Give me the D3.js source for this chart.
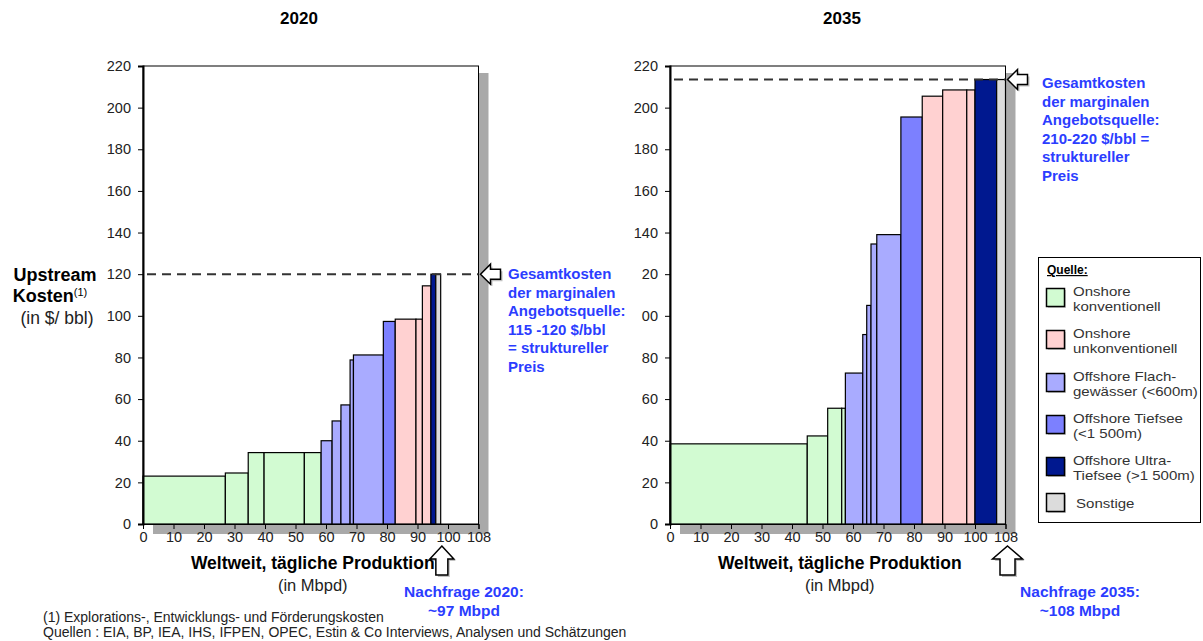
<!DOCTYPE html>
<html><head><meta charset="utf-8">
<script src="https://cdn.jsdelivr.net/npm/d3@7"></script>
<style>body{margin:0;background:#fff;} svg{font-family:"Liberation Sans",Arial,Helvetica,sans-serif;}</style>
</head><body><svg id="c" width="1203" height="641"></svg>
<script>
// ---------- data ----------
const sourceTypes = ["Onshore konventionell","Onshore unkonventionell","Offshore Flachgewässer (<600m)","Offshore Tiefsee (<1 500m)","Offshore Ultra-Tiefsee (>1 500m)","Sonstige"];
const legendLines = [["Onshore","konventionell"],["Onshore","unkonventionell"],["Offshore Flach-","gewässer (<600m)"],["Offshore Tiefsee","(<1 500m)"],["Offshore Ultra-","Tiefsee (>1 500m)"],["Sonstige"]];
const typeColors = ["#d2fbd2","#ffd1d1","#a9abff","#7c80ff","#00188f","#dcdcdc"];

const xTickValues = [0,10,20,30,40,50,60,70,80,90,100,110];
const xTickLabels = ["0","10","20","30","40","50","60","70","80","90","100","108"];
const yTickValues = [0,20,40,60,80,100,120,140,160,180,200,220];
const yTickLabels2020 = ["0","20","40","60","80","100","120","140","160","180","200","220"];
const yTickLabels2035 = ["0","20","40","60","80","00","20","140","160","180","200","220"];

// production width (Mbpd), upstream cost ($/bbl), source type index
const widths2020 = [27, 7.5, 5.2, 13.2, 5.5, 3.6, 2.9, 3.0, 1.1, 9.8, 3.9, 6.8, 2.1, 2.8, 1.6, 1.6];
const costs2020  = [23, 24.5, 34.3, 34.3, 34.3, 40, 49.5, 57.2, 78.8, 81.2, 97.3, 98.4, 98.4, 114.4, 120, 120];
const types2020  = [0, 0, 0, 0, 0, 2, 2, 2, 2, 2, 3, 1, 1, 1, 4, 5];

const widths2035 = [45, 6.7, 4.6, 1.2, 5.7, 1.3, 1.4, 1.9, 7.9, 7.0, 6.7, 7.9, 2.7, 7.1, 2.9];
const costs2035  = [38.5, 42.3, 55.6, 55.6, 72.5, 91, 105, 134.5, 139, 195.5, 205.5, 208.5, 208.5, 213.5, 213.5];
const types2035  = [0, 0, 0, 0, 2, 2, 2, 2, 2, 3, 1, 1, 1, 4, 5];

const marginalCost2020 = 120, marginalCost2035 = 213.5;
const demand2020 = 97, demand2035 = 110;
const note2020 = ["Gesamtkosten","der marginalen","Angebotsquelle:","115 -120 $/bbl","= struktureller","Preis"];
const note2035 = ["Gesamtkosten","der marginalen","Angebotsquelle:","210-220 $/bbl =","struktureller","Preis"];
const demandText2020 = ["Nachfrage 2020:","~97 Mbpd"];
const demandText2035 = ["Nachfrage 2035:","~108 Mbpd"];

// ---------- drawing ----------
const svg = d3.select("#c");
const blue = "#2b3dff";

function leftArrow(g, x, y) {
  const p = `M${x},${y} L${x+10},${y-10} L${x+10},${y-5} L${x+20},${y-5} L${x+20},${y+5} L${x+10},${y+5} L${x+10},${y+10} Z`;
  g.append("path").attr("d", p).attr("transform","translate(2,2)").attr("fill","#999").attr("opacity",0.6);
  g.append("path").attr("d", p).attr("fill","#fff").attr("stroke","#000").attr("stroke-width",1.5);
}
function upArrow(g, x, y, hw) {
  const sw = hw/2;
  const p = `M${x},${y} L${x+hw},${y+13} L${x+sw},${y+13} L${x+sw},${y+29} L${x-sw},${y+29} L${x-sw},${y+13} L${x-hw},${y+13} Z`;
  g.append("path").attr("d", p).attr("transform","translate(2,2)").attr("fill","#999").attr("opacity",0.6);
  g.append("path").attr("d", p).attr("fill","#fff").attr("stroke","#000").attr("stroke-width",1.5);
}

function drawChart(cfg) {
  const x = d3.scaleLinear().domain([0,110]).range([cfg.left, cfg.right]);
  const y = d3.scaleLinear().domain([0,220]).range([524, 66]);
  const g = svg.append("g");

  // title
  g.append("text").attr("x", cfg.titleX).attr("y", 24).attr("text-anchor","middle")
    .attr("font-weight","bold").attr("font-size",17).text(cfg.title);

  // shadow + box
  g.append("rect").attr("x", x(0)+10).attr("y", y(220)+7).attr("width", x(110)-x(0)).attr("height", y(0)-y(220)+3).attr("fill","#a9a9a9");
  g.append("rect").attr("x", x(0)).attr("y", y(220)).attr("width", x(110)-x(0)).attr("height", y(0)-y(220)).attr("fill","#fff").attr("stroke","#000").attr("stroke-width",1);

  // bars
  let cum = 0;
  const bars = cfg.widths.map((w,i) => { const b = {x0: cum, x1: cum+w, c: cfg.costs[i], t: cfg.types[i]}; cum += w; return b; });
  g.selectAll("rect.bar").data(bars).enter().append("rect").attr("class","bar")
    .attr("x", d => x(d.x0)).attr("width", d => x(d.x1)-x(d.x0))
    .attr("y", d => y(d.c)).attr("height", d => y(0)-y(d.c))
    .attr("fill", d => typeColors[d.t]).attr("stroke","#000").attr("stroke-width",1.2);

  // marginal dashed line
  g.append("line").attr("x1", x(0)+4).attr("x2", x(110)).attr("y1", y(cfg.marginal)).attr("y2", y(cfg.marginal))
    .attr("stroke","#333").attr("stroke-width",2).attr("stroke-dasharray","9,6");

  // axes
  const ya = d3.axisLeft(y).tickValues(yTickValues).tickFormat((d,i)=>cfg.yLabels[i]).tickSize(5).tickPadding(7);
  const yg = g.append("g").attr("transform",`translate(${x(0)},0)`).call(ya);
  yg.select(".domain").attr("stroke-width",2);
  yg.selectAll("text").attr("font-size",14.5).attr("fill","#222").attr("font-family","Liberation Sans, Arial");
  const xa = d3.axisBottom(x).tickValues(xTickValues).tickFormat((d,i)=>xTickLabels[i]).tickSize(5).tickPadding(3);
  const xg = g.append("g").attr("transform",`translate(0,${y(0)})`).call(xa);
  xg.selectAll("text").attr("font-size",14.5).attr("fill","#222").attr("font-family","Liberation Sans, Arial");

  // x axis title
  const cx = (x(0)+x(110))/2 + 2;
  g.append("text").attr("x", cx).attr("y", 569).attr("text-anchor","middle").attr("font-weight","bold").attr("font-size",17.5).text("Weltweit, tägliche Produktion");
  g.append("text").attr("x", cx).attr("y", 591).attr("text-anchor","middle").attr("font-size",16.5).attr("fill","#222").text("(in Mbpd)");

  // marginal arrow + note
  leftArrow(g, x(110)+2, y(cfg.marginal));
  const nt = g.append("text").attr("fill",blue).attr("font-weight","bold").attr("font-size",15);
  cfg.note.forEach((s,i)=> nt.append("tspan").attr("x", cfg.noteX).attr("y", cfg.noteY + i*18.6).text(s));

  // demand arrow + text
  upArrow(g, x(cfg.demand)+cfg.arrowDx, 546, cfg.arrowHW);
  const dt = g.append("text").attr("fill",blue).attr("font-weight","bold").attr("font-size",15.5).attr("text-anchor","middle");
  cfg.demandText.forEach((s,i)=> dt.append("tspan").attr("x", cfg.demandX).attr("y", 597 + i*19).text(s));
}

drawChart({title:"2020", titleX:299, left:143, right:478.5, widths:widths2020, costs:costs2020, types:types2020,
  yLabels:yTickLabels2020, marginal:marginalCost2020, note:note2020, noteX:508, noteY:279,
  demand:demand2020, arrowDx:3, arrowHW:12, demandText:demandText2020, demandX:464});
drawChart({title:"2035", titleX:842, left:670, right:1005.5, widths:widths2035, costs:costs2035, types:types2035,
  yLabels:yTickLabels2035, marginal:marginalCost2035, note:note2035, noteX:1042, noteY:88,
  demand:demand2035, arrowDx:2, arrowHW:15, demandText:demandText2035, demandX:1080});

// y axis title
const yt = svg.append("text").attr("text-anchor","middle").attr("font-size",18);
yt.append("tspan").attr("x",55).attr("y",281).attr("font-weight","bold").text("Upstream");
yt.append("tspan").attr("x",50).attr("y",302).attr("font-weight","bold").text("Kosten");
yt.append("tspan").attr("font-size",11).attr("dy",-6).attr("font-weight","normal").text("(1)");
yt.append("tspan").attr("x",57).attr("y",324).attr("fill","#222").attr("font-size",17.5).text("(in $/ bbl)");

// legend
const lg = svg.append("g");
lg.append("rect").attr("x",1038.5).attr("y",257.5).attr("width",162).attr("height",265).attr("fill","#fff").attr("stroke","#000");
lg.append("text").attr("x",1047).attr("y",274).attr("font-weight","bold").attr("font-size",12).attr("text-decoration","underline").text("Quelle:");
const legendY = [298, 340, 383, 425, 467, 503];
sourceTypes.forEach((t,i)=>{
  const cy = legendY[i];
  lg.append("rect").attr("x",1048).attr("y",cy-8).attr("width",18).attr("height",18).attr("fill","#999").attr("opacity",0.5);
  lg.append("rect").attr("x",1046.5).attr("y",cy-9.5).attr("width",18).attr("height",18).attr("fill",typeColors[i]).attr("stroke","#000").attr("stroke-width",1.5);
  const lines = legendLines[i];
  const tx = i===5?1076:1073;
  const tt = lg.append("text").attr("font-size",13.3).attr("fill","#333")
    .attr("transform",`translate(${tx},0) scale(1.13,1)`);
  lines.forEach((s,j)=> tt.append("tspan").attr("x", 0).attr("y", cy + (lines.length===1?5:-2 + j*15)).text(s));
});

// footnotes
const fn = svg.append("text").attr("font-size",14).attr("fill","#222");
fn.append("tspan").attr("x",43).attr("y",622).text("(1) Explorations-, Entwicklungs- und Förderungskosten");
fn.append("tspan").attr("x",43).attr("y",637).text("Quellen : EIA, BP, IEA, IHS, IFPEN, OPEC, Estin & Co Interviews, Analysen und Schätzungen");
</script></body></html>
